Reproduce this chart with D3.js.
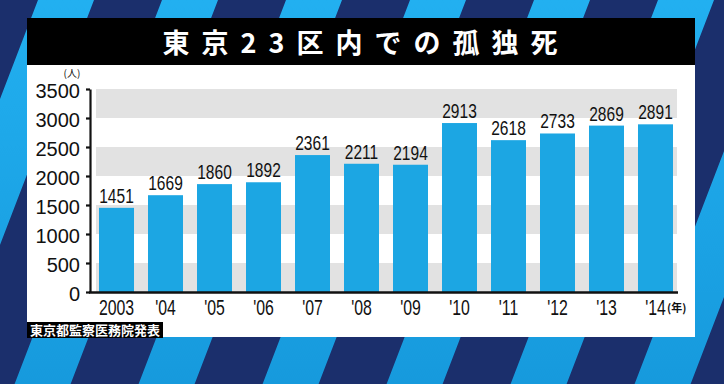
<!DOCTYPE html>
<html>
<head>
<meta charset="utf-8">
<title>東京23区内での孤独死</title>
<script src="https://d3js.org/d3.v7.min.js"></script>
<style>
    body { margin: 0; background: #1c2f6b; }
    svg { display: block; }
    .num { font-family: "Liberation Sans", Arial, sans-serif; fill: #111; }
    .jp { font-family: "Noto Sans CJK JP", sans-serif; }
</style>
</head>
<body>
<div id="chart"></div>
<script>
    // data
    var years = ["2003", "'04", "'05", "'06", "'07", "'08", "'09", "'10", "'11", "'12", "'13", "'14"];
    var deaths = [1451, 1669, 1860, 1892, 2361, 2211, 2194, 2913, 2618, 2733, 2869, 2891];
    var yTicks = [0, 500, 1000, 1500, 2000, 2500, 3000, 3500];

    var W = 724, H = 384;

    var svg = d3.select("#chart").append("svg")
        .attr("width", W)
        .attr("height", H);

    // striped backdrop
    var defs = svg.append("defs");
    var pat = defs.append("pattern")
        .attr("id", "stripes")
        .attr("patternUnits", "userSpaceOnUse")
        .attr("width", 124)
        .attr("height", 400)
        .attr("patternTransform", "translate(38,0) skewX(-21)");
    pat.append("rect").attr("width", 124).attr("height", 400).attr("fill", "#1b2f6c");
    pat.append("rect").attr("width", 56).attr("height", 400).attr("fill", "url(#lightgrad)");
    var lg = defs.append("linearGradient")
        .attr("id", "lightgrad")
        .attr("gradientUnits", "userSpaceOnUse")
        .attr("x1", 0).attr("y1", 0).attr("x2", 0).attr("y2", 400);
    lg.append("stop").attr("offset", "0%").attr("stop-color", "#22b0f0");
    lg.append("stop").attr("offset", "100%").attr("stop-color", "#1699dc");

    svg.append("rect")
        .attr("width", W)
        .attr("height", H)
        .attr("fill", "url(#stripes)");

    // panel + title bar
    svg.append("rect")
        .attr("x", 27).attr("y", 65)
        .attr("width", 668).attr("height", 272)
        .attr("fill", "#ffffff");
    svg.append("rect")
        .attr("x", 27).attr("y", 18)
        .attr("width", 668).attr("height", 47)
        .attr("fill", "#000000");
    svg.append("text")
        .attr("class", "jp")
        .attr("x", 366)
        .attr("y", 53)
        .attr("text-anchor", "middle")
        .style("font-size", "27px")
        .style("font-weight", "700")
        .style("letter-spacing", "12px")
        .attr("fill", "#ffffff")
        .text("東京23区内での孤独死");

    // scales
    var x = d3.scaleBand()
        .domain(years)
        .range([92, 680])
        .paddingInner(0.2857)
        .paddingOuter(0.143);

    var y = d3.scaleLinear()
        .domain([0, 3500])
        .range([292, 89]);

    // alternating grey bands
    var bands = yTicks.filter(function(d, i) { return i % 2 === 0; });
    svg.append("g").selectAll("rect")
        .data(bands)
        .enter()
        .append("rect")
        .attr("x", 96)
        .attr("width", 581)
        .attr("y", function(d) { return y(d + 500); })
        .attr("height", function(d) { return y(d) - y(d + 500); })
        .attr("fill", "#e2e2e2");

    // bars
    svg.append("g").selectAll("rect")
        .data(deaths)
        .enter()
        .append("rect")
        .attr("x", function(d, i) { return x(years[i]); })
        .attr("y", function(d) { return y(d); })
        .attr("width", x.bandwidth())
        .attr("height", function(d) { return y(0) - y(d); })
        .attr("fill", "#1ca6e3");

    // value labels
    svg.append("g").selectAll("text")
        .data(deaths)
        .enter()
        .append("text")
        .attr("class", "num")
        .attr("text-anchor", "middle")
        .attr("transform", function(d, i) {
            return "translate(" + (x(years[i]) + x.bandwidth() / 2) + "," + (y(d) - 5) + ") scale(0.74,1)";
        })
        .style("font-size", "21px")
        .text(function(d) { return d; });

    // y axis
    var yAxis = svg.append("g")
        .attr("transform", "translate(90,0)")
        .call(d3.axisLeft(y).tickValues(yTicks).tickFormat(d3.format("d"))
            .tickSize(4).tickSizeOuter(0).tickPadding(6));
    yAxis.select(".domain").attr("stroke", "#111").attr("stroke-width", 2.2);
    yAxis.selectAll(".tick line").attr("stroke", "#111").attr("stroke-width", 2.2);
    yAxis.selectAll(".tick text")
        .attr("class", "num")
        .attr("fill", "#111")
        .attr("dy", "0.42em")
        .style("font-family", "'Liberation Sans', Arial, sans-serif")
        .style("font-size", "20px");

    // x axis
    var xAxis = svg.append("g")
        .attr("transform", "translate(0,292)")
        .call(d3.axisBottom(x).tickSize(0).tickPadding(7));
    xAxis.select(".domain").remove();
    xAxis.selectAll(".tick text")
        .attr("fill", "#111")
        .attr("transform", "scale(0.72,1)")
        .style("font-family", "'Liberation Sans', Arial, sans-serif")
        .style("font-size", "22px");
    svg.append("line")
        .attr("x1", 89).attr("x2", 678)
        .attr("y1", 292.5).attr("y2", 292.5)
        .attr("stroke", "#111")
        .attr("stroke-width", 2.6);

    // unit labels
    svg.append("text")
        .attr("class", "jp")
        .attr("x", 72).attr("y", 77)
        .attr("text-anchor", "middle")
        .style("font-size", "10px")
        .attr("fill", "#111")
        .text("(人)");
    svg.append("text")
        .attr("class", "jp")
        .attr("x", 667).attr("y", 312)
        .style("font-size", "11px")
        .style("font-weight", "700")
        .attr("fill", "#111")
        .text("(年)");

    // source
    svg.append("rect")
        .attr("x", 27).attr("y", 322)
        .attr("width", 136).attr("height", 16)
        .attr("fill", "#000");
    svg.append("text")
        .attr("class", "jp")
        .attr("x", 30).attr("y", 335)
        .style("font-size", "13px")
        .style("font-weight", "700")
        .attr("fill", "#ffffff")
        .text("東京都監察医務院発表");
</script>
</body>
</html>
